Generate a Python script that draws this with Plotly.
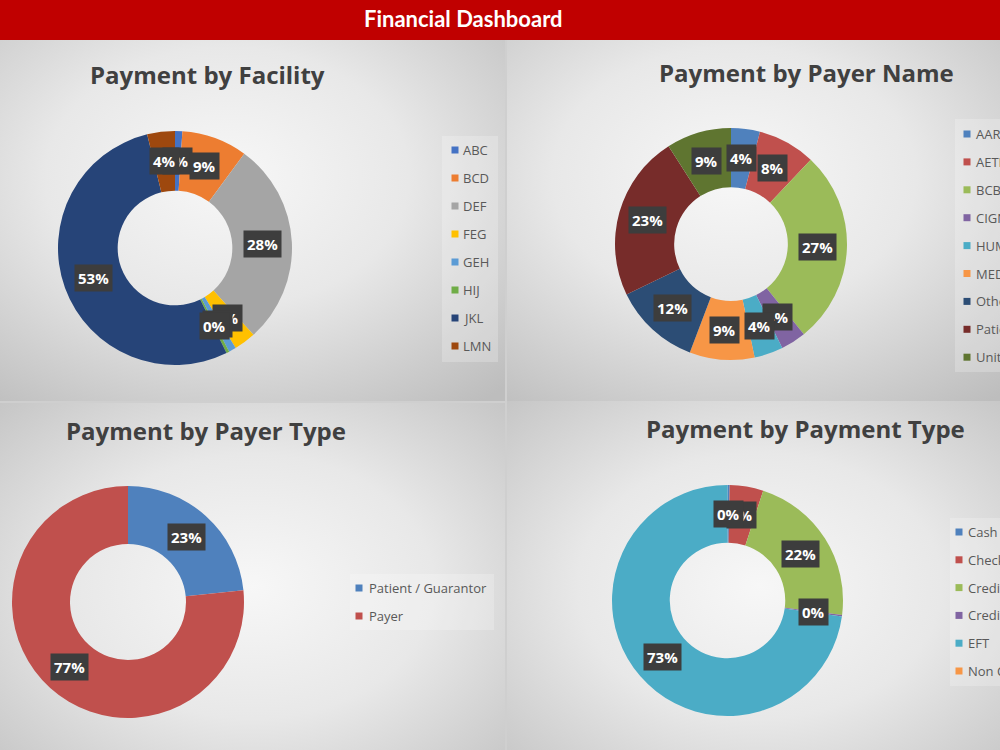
import math
import base64
import plotly.graph_objects as go

W, H = 1000, 750

# ---------------- data ----------------
facility_labels = ["ABC", "BCD", "DEF", "FEG", "GEH", "HIJ", "JKL", "LMN"]
facility_values = [1.0, 9.0, 28.0, 3.0, 1.0, 0.4, 53.0, 3.8]

payer_labels = ["AARP", "AETNA", "BCBS", "CIGNA", "HUMANA", "MEDICARE", "Other", "Patient", "United"]
payer_values = [4.0, 8.0, 27.0, 3.5, 4.0, 9.0, 12.0, 23.0, 9.0]

payer_type_labels = ["Patient / Guarantor", "Payer"]
payer_type_values = [23.4, 76.6]

payment_type_labels = ["Cash", "Check", "Credit Card", "Credit Adjustment", "EFT", "Non Cash"]
payment_type_values = [0.3, 4.7, 22.0, 0.2, 72.8, 0.0]

chart_titles = ["Payment by Facility", "Payment by Payer Name",
                "Payment by Payer Type", "Payment by Payment Type"]
dashboard_title = "Financial Dashboard"

# ---------------- styles ----------------
office2013 = ["#4472C4", "#ED7D31", "#A5A5A5", "#FFC000", "#5B9BD5", "#70AD47", "#264478", "#9E480E"]
office2010 = ["#4F81BD", "#C0504D", "#9BBB59", "#8064A2", "#4BACC6", "#F79646", "#2C4D75", "#772C2A", "#5F7530"]

fig = go.Figure()
shapes = []
annotations = []
images = []


def px(x):
    return x / W


def py(y):
    return 1 - y / H


def grad_uri(cx, cy, r):
    svg = (
        '<svg xmlns="http://www.w3.org/2000/svg" width="100" height="100" '
        'viewBox="0 0 100 100" preserveAspectRatio="none">'
        '<defs><radialGradient id="g" cx="%s" cy="%s" r="%s">'
        '<stop offset="0" stop-color="#f7f7f7"/>'
        '<stop offset="0.45" stop-color="#e8e8e8"/>'
        '<stop offset="1" stop-color="#bdbdbd"/>'
        '</radialGradient></defs>'
        '<rect x="0" y="0" width="100" height="100" fill="url(#g)"/></svg>'
    ) % (cx, cy, r)
    return "data:image/svg+xml;base64," + base64.b64encode(svg.encode()).decode()


# panel backgrounds (x0, y0, x1, y1, gradient centre)
panels = [
    (0, 40, 505, 401, 0.45, 0.38),
    (507, 39, 1012, 401, 0.45, 0.38),
    (0, 403, 505, 770, 0.5, 0.5),
    (507, 401, 1012, 770, 0.5, 0.5),
]
for x0, y0, x1, y1, gx, gy in panels:
    images.append(dict(source=grad_uri(gx, gy, 0.8), xref="paper", yref="paper",
                       x=px(x0), y=py(y0), sizex=(x1 - x0) / W, sizey=(y1 - y0) / H,
                       xanchor="left", yanchor="top", sizing="stretch", layer="below"))

# header bar
shapes.append(dict(type="rect", xref="paper", yref="paper", x0=0, x1=1, y0=py(40), y1=1,
                   fillcolor="#C00000", line=dict(width=0), layer="below"))
annotations.append(dict(text="<b>%s</b>" % dashboard_title, x=px(463), y=py(19), xref="paper", yref="paper",
                        showarrow=False, xanchor="center", yanchor="middle",
                        font=dict(family="Lato, Open Sans", size=22, color="white")))

# chart titles
title_pos = [(207, 75), (806, 73), (206, 430), (805, 429)]
for t, (tx, ty) in zip(chart_titles, title_pos):
    annotations.append(dict(text="<b>%s</b>" % t, x=px(tx), y=py(ty), xref="paper", yref="paper",
                            showarrow=False, xanchor="center", yanchor="middle",
                            font=dict(family="Open Sans", size=24, color="#404040")))


def add_donut(labels, values, colors, cx, cy, r, hole, reverse_labels=False):
    fig.add_trace(go.Pie(
        labels=labels, values=values, hole=hole, sort=False, direction="clockwise", rotation=0,
        marker=dict(colors=colors, line=dict(width=0)), textinfo="none", showlegend=False,
        hoverinfo="label+value+percent",
        domain=dict(x=[px(cx - r), px(cx + r)], y=[py(cy + r), py(cy - r)]),
    ))
    total = float(sum(values))
    rm = r * (1 + hole) / 2
    cum = 0.0
    labs = []
    for v in values:
        if v > 0:
            th = 2 * math.pi * (cum + v / 2) / total
            lx = cx + rm * math.sin(th)
            ly = cy - rm * math.cos(th)
            labs.append(dict(text="<b>%d%%</b>" % int(round(100 * v / total)), x=px(lx), y=py(ly),
                             xref="paper", yref="paper", showarrow=False,
                             xanchor="center", yanchor="middle", bgcolor="#3d3d3d", borderpad=3,
                             font=dict(family="Open Sans", size=15, color="white")))
        cum += v
    if reverse_labels:
        labs = labs[::-1]
    annotations.extend(labs)


add_donut(facility_labels, facility_values, office2013, 175, 248, 117, 0.49)
add_donut(payer_labels, payer_values, office2010, 731, 244, 116, 0.49)
add_donut(payer_type_labels, payer_type_values, office2010[:2], 128, 602, 116, 0.5)
add_donut(payment_type_labels, payment_type_values, office2010[:6], 727.5, 600.5, 115.5, 0.5,
          reverse_labels=True)


def add_legend(labels, colors, box, sw_x, tx, y0, dy):
    bx0, by0, bx1, by1 = box
    shapes.append(dict(type="rect", xref="paper", yref="paper", x0=px(bx0), x1=px(bx1),
                       y0=py(by1), y1=py(by0), fillcolor="rgba(255,255,255,0.22)",
                       line=dict(width=0), layer="below"))
    for i, (lab, col) in enumerate(zip(labels, colors)):
        yy = y0 + i * dy
        shapes.append(dict(type="rect", xref="paper", yref="paper",
                           x0=px(sw_x - 3.5), x1=px(sw_x + 3.5), y0=py(yy + 3.5), y1=py(yy - 3.5),
                           fillcolor=col, line=dict(width=0)))
        annotations.append(dict(text=lab, x=px(tx), y=py(yy), xref="paper", yref="paper",
                                showarrow=False, xanchor="left", yanchor="middle",
                                font=dict(family="Open Sans", size=13, color="#595959")))


add_legend(facility_labels, office2013, (442, 136, 498, 362), 455, 461, 150, 28)
add_legend(payer_labels, office2010, (955, 119, 1010, 372), 967, 974, 134, 27.9)
add_legend(payer_type_labels, office2010[:2], (350, 574, 494, 630), 359, 367, 588, 28)
add_legend(payment_type_labels, office2010[:6], (950, 518, 1010, 686), 959, 966, 532, 27.8)

fig.update_layout(
    width=W, height=H, margin=dict(l=0, r=0, t=0, b=0),
    paper_bgcolor="#cfcfcf", plot_bgcolor="rgba(0,0,0,0)",
    shapes=shapes, annotations=annotations, images=images,
    showlegend=False,
)

fig.write_html("out.html")
